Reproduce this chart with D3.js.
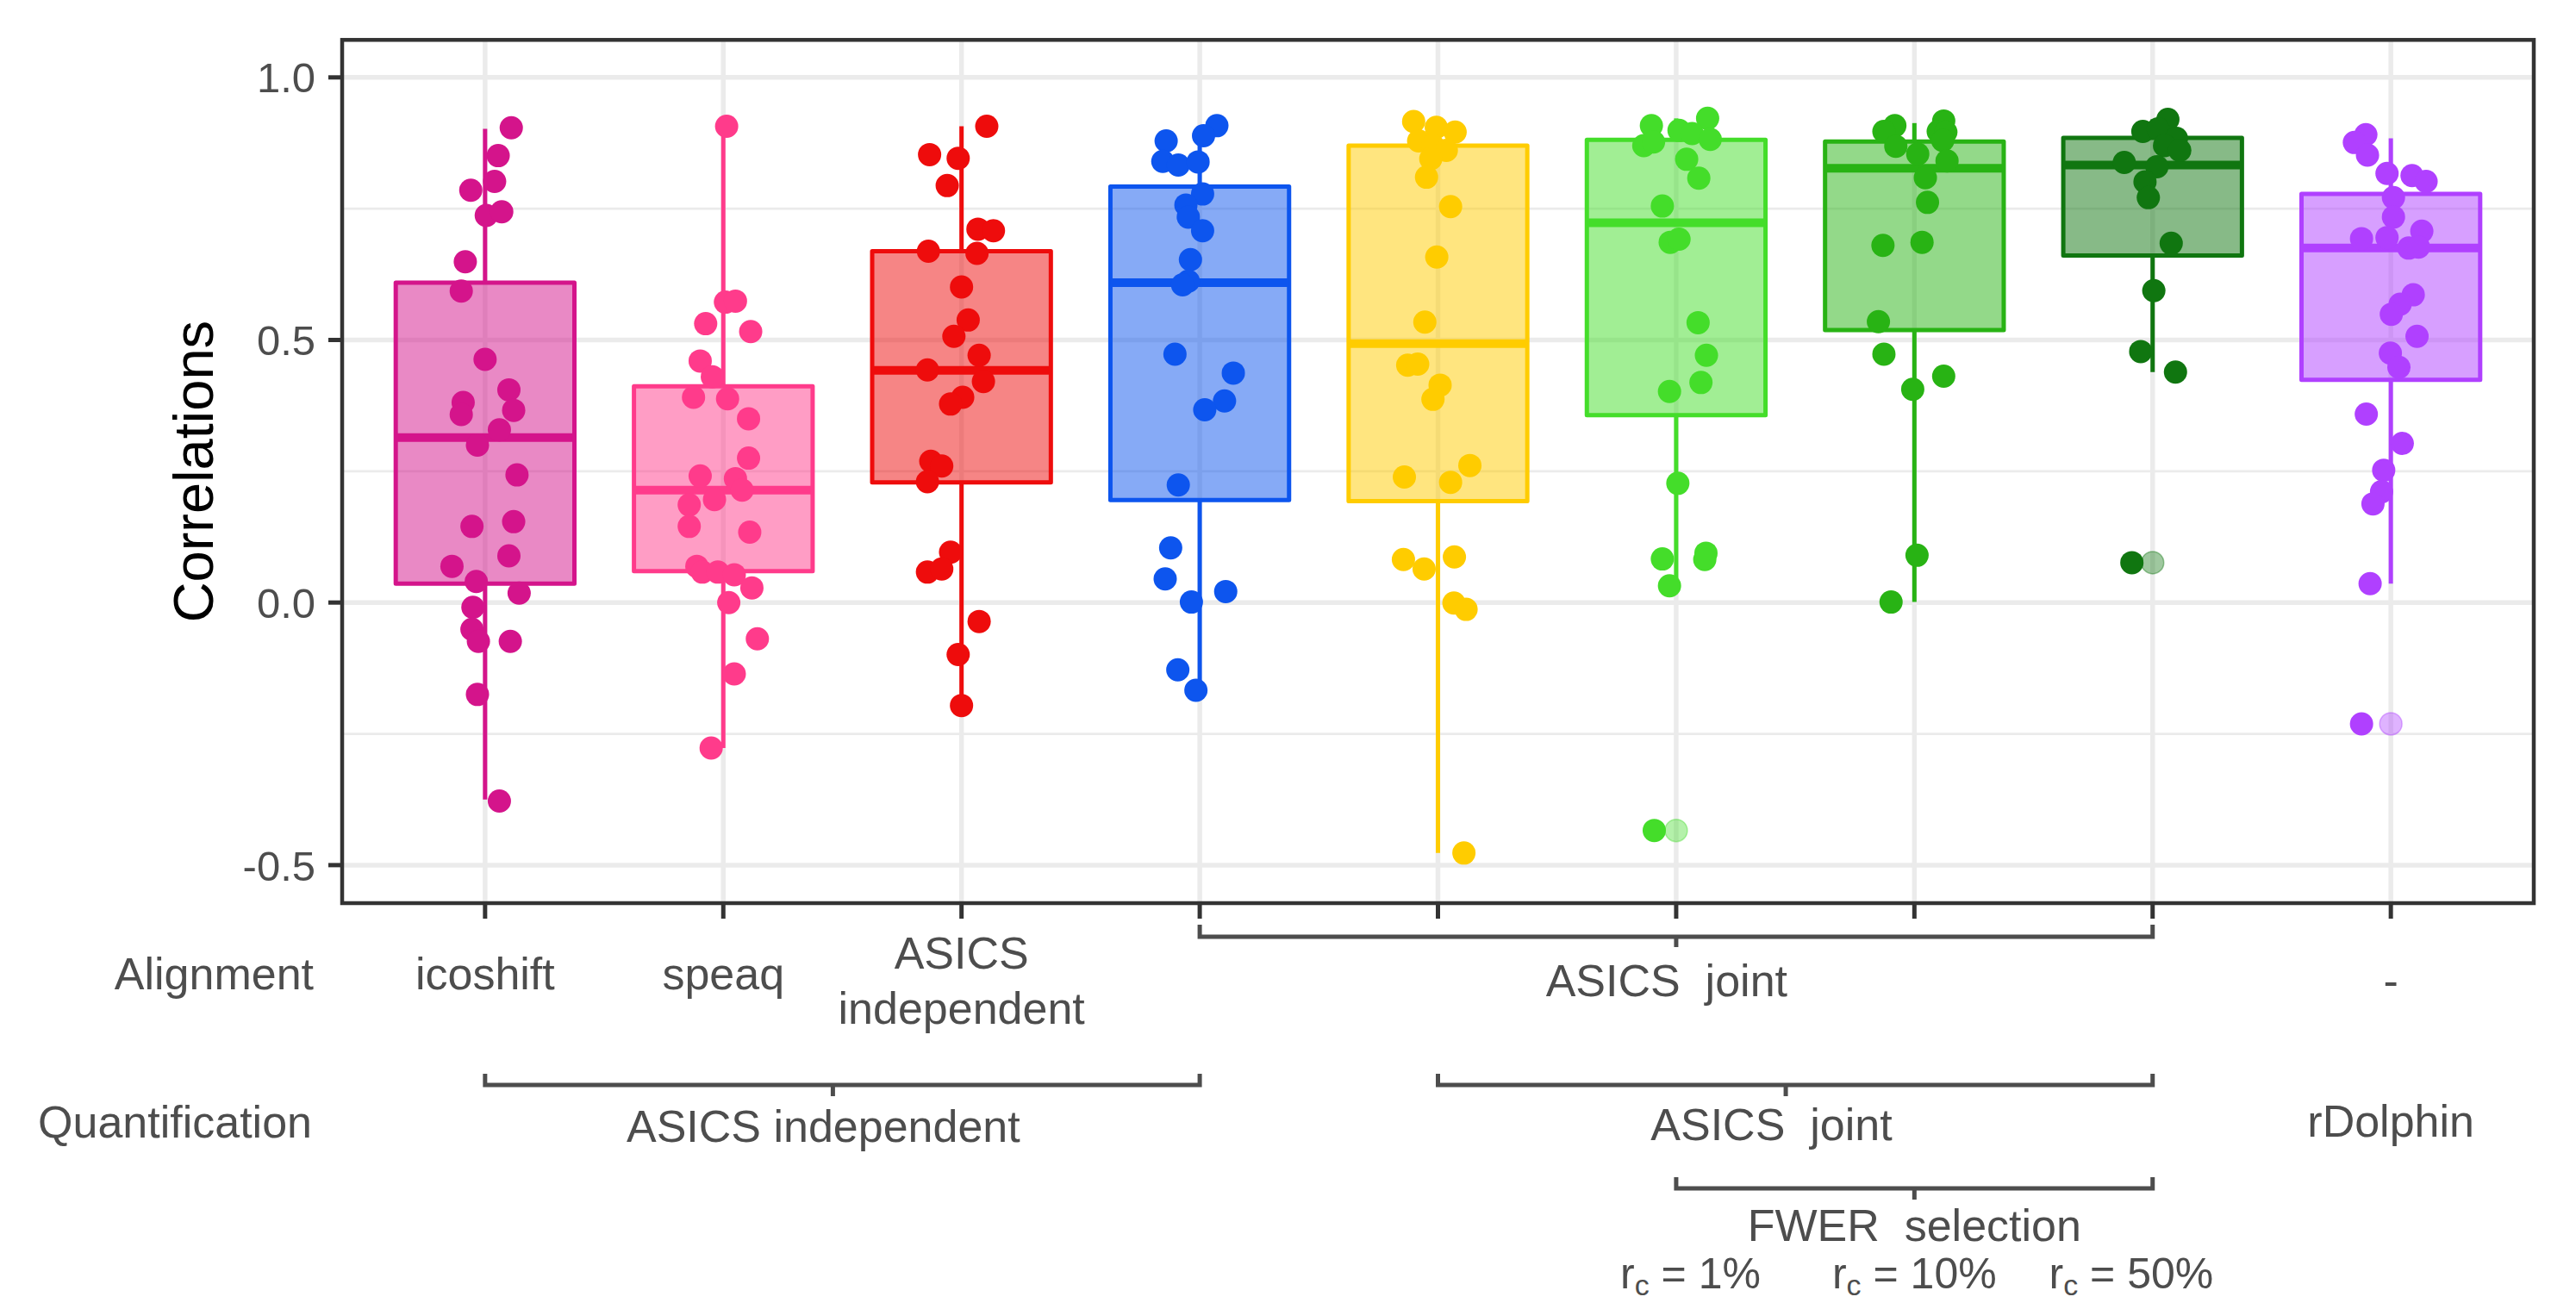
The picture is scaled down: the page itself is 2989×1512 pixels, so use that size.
<!DOCTYPE html>
<html>
<head>
<meta charset="utf-8">
<script src="https://cdn.jsdelivr.net/npm/d3@7"></script>
<style>
html,body{margin:0;padding:0;background:#fff;}
svg{display:block;}
text{font-family:"Liberation Sans",Arial,Helvetica,sans-serif;}
</style>
</head>
<body>
<svg id="chart" width="2989" height="1512"></svg>
<script>
// ---------------- DATA ----------------
const categories = ["icoshift","speaq","ASICS_indep","joint_align","joint_quant","fwer_1","fwer_10","fwer_50","rDolphin"];
const lineColors = ["#D4148B","#FF3B8B","#EE0C0C","#0D55EE","#FFCC00","#44DD2A","#28B314","#107610","#B040FF"];

// box statistics
const whiskerLow  = [-0.375,-0.277,-0.196,-0.167,-0.477, 0.032, 0.001, 0.439, 0.036];
const q1          = [ 0.036, 0.060, 0.229, 0.195, 0.193, 0.357, 0.519, 0.661, 0.424];
const medians     = [ 0.314, 0.214, 0.442, 0.609, 0.493, 0.723, 0.827, 0.833, 0.675];
const q3          = [ 0.609, 0.412, 0.669, 0.792, 0.870, 0.881, 0.878, 0.885, 0.778];
const whiskerHigh = [ 0.902, 0.907, 0.907, 0.908, 0.916, 0.922, 0.913, 0.920, 0.884];
const outliers    = [[],[],[],[],[],[-0.434],[],[0.076],[-0.231]];

// jittered points: correlation values and horizontal jitter (in category units)
const pts_icoshift = [0.904,0.851,0.802,0.785,0.737,0.744,0.649,0.593,0.463,0.405,0.381,0.358,0.366,0.329,0.300,0.243,0.145,0.154,0.089,0.069,0.040,0.018,-0.009,-0.051,-0.074,-0.074,-0.175,-0.378];
const jit_icoshift = [0.11,0.055,0.04,-0.06,0.005,0.07,-0.083,-0.10,0,0.10,-0.092,-0.10,0.12,0.06,-0.032,0.134,-0.055,0.12,0.10,-0.139,-0.037,0.143,-0.051,-0.055,-0.028,0.106,-0.032,0.06];
const pts_speaq = [0.907,0.572,0.574,0.531,0.516,0.460,0.430,0.391,0.388,0.350,0.275,0.241,0.236,0.214,0.186,0.196,0.145,0.134,0.069,0.058,0.058,0.053,0.028,0.000,-0.069,-0.136,-0.277];
const jit_speaq = [0.014,0.009,0.051,-0.074,0.115,-0.097,-0.046,-0.125,0.018,0.106,0.106,-0.097,0.051,0.079,-0.143,-0.037,-0.143,0.111,-0.111,-0.088,-0.023,0.046,0.12,0.023,0.143,0.046,-0.051];
const pts_asicsIndep = [0.907,0.853,0.846,0.794,0.711,0.708,0.669,0.665,0.601,0.538,0.507,0.471,0.443,0.421,0.391,0.378,0.269,0.260,0.230,0.096,0.058,0.064,-0.036,-0.099,-0.196];
const jit_asicsIndep = [0.106,-0.134,-0.014,-0.06,0.069,0.134,-0.139,0.065,0,0.028,-0.032,0.074,-0.143,0.092,0.005,-0.046,-0.129,-0.083,-0.143,-0.046,-0.143,-0.083,0.074,-0.014,0];
const pts_jointAlign = [0.908,0.889,0.879,0.840,0.833,0.839,0.778,0.757,0.734,0.708,0.653,0.612,0.605,0.473,0.437,0.384,0.367,0.224,0.104,0.045,0.001,0.021,-0.128,-0.167];
const jit_jointAlign = [0.072,0.016,-0.141,-0.155,-0.09,-0.007,0.012,-0.058,-0.048,0.012,-0.039,-0.048,-0.072,-0.104,0.141,0.104,0.021,-0.09,-0.122,-0.145,-0.035,0.109,-0.092,-0.016];
const pts_jointQuant = [0.916,0.905,0.896,0.879,0.870,0.861,0.845,0.810,0.754,0.658,0.534,0.452,0.454,0.414,0.387,0.239,0.229,0.261,0.082,0.064,0.087,-0.001,-0.013,-0.477];
const jit_jointQuant = [-0.102,-0.007,0.072,-0.081,-0.021,0.035,-0.03,-0.048,0.053,-0.005,-0.055,-0.127,-0.085,0.009,-0.021,-0.141,0.053,0.134,-0.145,-0.058,0.069,0.067,0.118,0.109];
const pts_fwer1 = [0.908,0.899,0.922,0.870,0.877,0.893,0.882,0.844,0.808,0.755,0.686,0.692,0.533,0.471,0.419,0.402,0.227,0.083,0.094,0.082,0.032,-0.434];
const jit_fwer1 = [-0.104,0.012,0.132,-0.136,-0.095,0.067,0.143,0.044,0.095,-0.058,-0.025,0.012,0.092,0.127,0.104,-0.028,0.007,-0.058,0.125,0.12,-0.028,-0.092];
const pts_fwer10 = [0.908,0.897,0.917,0.897,0.869,0.854,0.896,0.880,0.841,0.809,0.762,0.680,0.686,0.535,0.473,0.406,0.431,0.090,0.001];
const jit_fwer10 = [-0.082,-0.128,0.123,0.1,-0.078,0.014,0.132,0.119,0.137,0.046,0.055,-0.132,0.032,-0.151,-0.128,-0.007,0.123,0.011,-0.098];
const pts_fwer50 = [0.920,0.897,0.902,0.884,0.870,0.861,0.838,0.830,0.801,0.771,0.684,0.594,0.478,0.439,0.076];
const jit_fwer50 = [0.064,-0.041,0.023,0.1,0.05,0.114,-0.119,0.018,-0.032,-0.018,0.078,0.005,-0.05,0.096,-0.087];
const pts_rDolphin = [0.891,0.876,0.852,0.817,0.813,0.802,0.771,0.734,0.707,0.693,0.695,0.675,0.677,0.586,0.568,0.549,0.507,0.475,0.448,0.359,0.303,0.252,0.211,0.188,0.036,-0.231];
const jit_rDolphin = [-0.105,-0.153,-0.098,-0.016,0.089,0.148,0.011,0.011,0.13,-0.123,-0.016,0.075,0.116,0.094,0.039,0.002,0.11,-0.002,0.034,-0.103,0.048,-0.03,-0.039,-0.075,-0.087,-0.123];

const pointValues = [pts_icoshift,pts_speaq,pts_asicsIndep,pts_jointAlign,pts_jointQuant,pts_fwer1,pts_fwer10,pts_fwer50,pts_rDolphin];
const pointJitter = [jit_icoshift,jit_speaq,jit_asicsIndep,jit_jointAlign,jit_jointQuant,jit_fwer1,jit_fwer10,jit_fwer50,jit_rDolphin];

const yTicks = [-0.5, 0.0, 0.5, 1.0];
const yTickLabels = ["-0.5","0.0","0.5","1.0"];
const yMinor = [-0.25, 0.25, 0.75];
const yTitle = "Correlations";

// annotation rows below the axis (double spaces kept with a no-break space)
const rowTitles = ["Alignment","Quantification"];
const alignLabels = [["icoshift"],["speaq"],["ASICS","independent"],["ASICS \u00A0joint"],["-"]];
const alignLabelCat = [1, 2, 3, 5.96, 9];
const quantLabels = ["ASICS independent","ASICS \u00A0joint","rDolphin"];
const quantLabelCat = [2.42, 6.40, 9];
const fwerTitle = "FWER \u00A0selection";
const rcLabels = ["1%","10%","50%"];
const rcLabelCat = [6.06, 7.0, 7.91];
// brackets: [from category, to category, middle tick category]
const alignBrackets = [[4, 8, 6]];
const quantBrackets = [[1, 4, 2.46],[5, 8, 6.46]];
const fwerBrackets  = [[6, 8, 7]];

// ---------------- DRAWING ----------------
const svg = d3.select("#chart");
svg.append("rect").attr("width",2989).attr("height",1512).attr("fill","#fff");

const P = {left:397, right:2940, top:46.3, bottom:1048};
const x = d3.scalePoint().domain(categories).range([P.left, P.right]).padding(0.6);
const step = x.step();
const xc = c => x(categories[0]) + (c - 1) * step;  // category index (1-based, fractional) -> px
const y = d3.scaleLinear().domain([-0.5724, 1.0714]).range([P.bottom, P.top]);

const grid = "#EBEBEB", dark = "#333333", textGrey = "#4D4D4D";

const g = svg.append("g");
// grid
g.selectAll(".minor").data(yMinor).join("line")
  .attr("x1",P.left).attr("x2",P.right).attr("y1",d=>y(d)).attr("y2",d=>y(d))
  .attr("stroke",grid).attr("stroke-width",2.8);
g.selectAll(".major").data(yTicks).join("line")
  .attr("x1",P.left).attr("x2",P.right).attr("y1",d=>y(d)).attr("y2",d=>y(d))
  .attr("stroke",grid).attr("stroke-width",5.5);
g.selectAll(".vgrid").data(categories).join("line")
  .attr("x1",d=>x(d)).attr("x2",d=>x(d)).attr("y1",P.top).attr("y2",P.bottom)
  .attr("stroke",grid).attr("stroke-width",5.5);

// boxplots
const boxW = 0.75 * step;
categories.forEach((cat, i) => {
  const cx = x(cat), col = lineColors[i];
  const bg = g.append("g");
  bg.append("line").attr("x1",cx).attr("x2",cx).attr("y1",y(q3[i])).attr("y2",y(whiskerHigh[i]))
    .attr("stroke",col).attr("stroke-width",5);
  bg.append("line").attr("x1",cx).attr("x2",cx).attr("y1",y(q1[i])).attr("y2",y(whiskerLow[i]))
    .attr("stroke",col).attr("stroke-width",5);
  bg.append("rect").attr("x",cx-boxW/2).attr("width",boxW)
    .attr("y",y(q3[i])).attr("height",y(q1[i])-y(q3[i]))
    .attr("fill",col).attr("fill-opacity",0.5)
    .attr("stroke",col).attr("stroke-width",5).attr("stroke-linejoin","round");
  bg.append("line").attr("x1",cx-boxW/2).attr("x2",cx+boxW/2).attr("y1",y(medians[i])).attr("y2",y(medians[i]))
    .attr("stroke",col).attr("stroke-width",10);
  bg.selectAll(".out").data(outliers[i]).join("circle")
    .attr("cx",cx).attr("cy",d=>y(d)).attr("r",13)
    .attr("fill",col).attr("fill-opacity",0.4).attr("stroke",col).attr("stroke-opacity",0.4).attr("stroke-width",1.5);
});

// jittered points
categories.forEach((cat, i) => {
  const col = lineColors[i];
  const data = pointValues[i].map((v,k)=>({v, j: pointJitter[i][k]}));
  g.append("g").selectAll("circle").data(data).join("circle")
    .attr("cx",d=>x(cat) + d.j*step).attr("cy",d=>y(d.v)).attr("r",13.5)
    .attr("fill",col);
});

// panel border
svg.append("rect").attr("x",P.left).attr("y",P.top).attr("width",P.right-P.left).attr("height",P.bottom-P.top)
  .attr("fill","none").attr("stroke",dark).attr("stroke-width",4.5);

// y axis
const yAxis = svg.append("g");
yAxis.selectAll("line").data(yTicks).join("line")
  .attr("x1",P.left-16).attr("x2",P.left).attr("y1",d=>y(d)).attr("y2",d=>y(d))
  .attr("stroke",dark).attr("stroke-width",5);
yAxis.selectAll("text").data(yTicks).join("text")
  .attr("x",P.left-31).attr("y",d=>y(d)).attr("dy","0.36em")
  .attr("text-anchor","end").attr("font-size",49).attr("fill",textGrey)
  .text((d,i)=>yTickLabels[i]);
svg.append("text")
  .attr("transform",`translate(247,${(P.top+P.bottom)/2}) rotate(-90)`)
  .attr("text-anchor","middle").attr("font-size",65).attr("fill","#000").text(yTitle);

// x ticks
svg.append("g").selectAll("line").data(categories).join("line")
  .attr("x1",d=>x(d)).attr("x2",d=>x(d)).attr("y1",P.bottom).attr("y2",P.bottom+18)
  .attr("stroke",dark).attr("stroke-width",5);

// annotations
const ann = svg.append("g").attr("fill",textGrey).attr("font-size",52);
ann.append("text").attr("x",364).attr("y",1148).attr("text-anchor","end").text(rowTitles[0]);
ann.append("text").attr("x",362).attr("y",1320).attr("text-anchor","end").text(rowTitles[1]);

const alignBase = [1148, 1148, 1124, 1156, 1156];
alignLabels.forEach((lines, i) => {
  lines.forEach((t, k) => {
    ann.append("text").attr("x",xc(alignLabelCat[i])).attr("y",alignBase[i] + k*64)
      .attr("text-anchor","middle").text(t);
  });
});
const quantBase = [1325, 1323, 1319];
quantLabels.forEach((t,i)=>{
  ann.append("text").attr("x",xc(quantLabelCat[i])).attr("y",quantBase[i]).attr("text-anchor","middle").text(t);
});
ann.append("text").attr("x",xc(7)).attr("y",1440).attr("text-anchor","middle").text(fwerTitle);
rcLabels.forEach((t,i)=>{
  const tx = ann.append("text").attr("x",xc(rcLabelCat[i])).attr("y",1495)
    .attr("font-size",50).attr("text-anchor","middle");
  tx.append("tspan").text("r");
  tx.append("tspan").attr("font-size",34).attr("dy",8).text("c");
  tx.append("tspan").attr("dy",-8).text(" = " + t);
});

function drawBracket(b, yy, up, down){
  const bg = svg.append("g").attr("stroke",textGrey).attr("stroke-width",5).attr("fill","none");
  bg.append("path").attr("d",`M${xc(b[0])},${yy-up}V${yy}H${xc(b[1])}V${yy-up}`).attr("stroke-linejoin","miter");
  bg.append("line").attr("x1",xc(b[2])).attr("x2",xc(b[2])).attr("y1",yy).attr("y2",yy+down);
}
alignBrackets.forEach(b=>drawBracket(b,1087,14,12));
quantBrackets.forEach(b=>drawBracket(b,1259,13,13));
fwerBrackets.forEach(b=>drawBracket(b,1379,13,13));
</script>
</body>
</html>
